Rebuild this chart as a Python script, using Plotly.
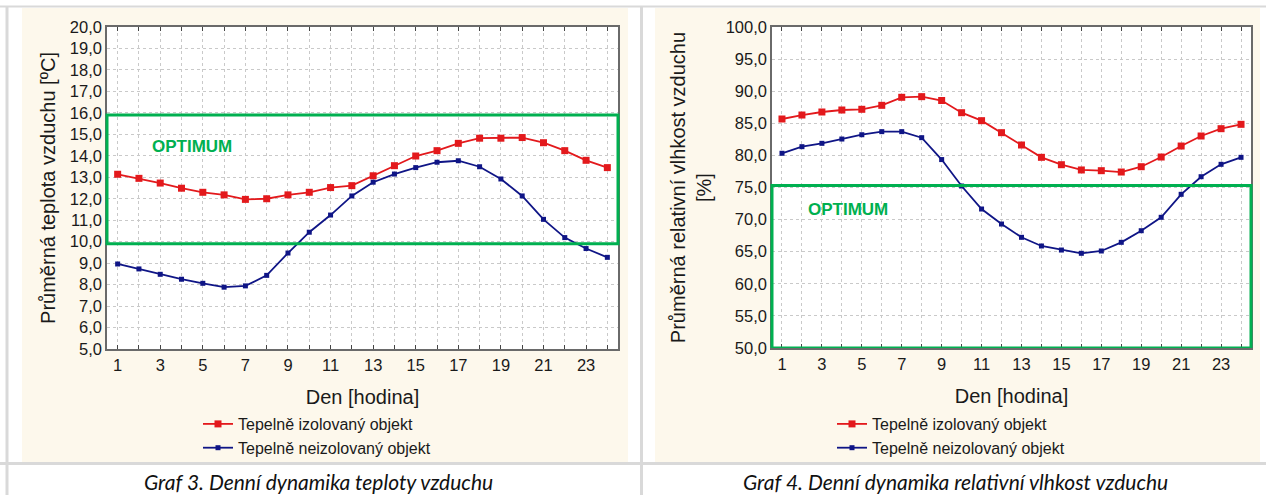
import plotly.graph_objects as go

hours = list(range(1, 25))

temp_izol = [13.14, 12.95, 12.73, 12.49, 12.30, 12.18, 11.97, 12.00, 12.18, 12.30, 12.52, 12.61,
             13.07, 13.54, 13.99, 14.24, 14.58, 14.82, 14.82, 14.85, 14.61, 14.24, 13.79, 13.45]
temp_neizol = [8.96, 8.73, 8.48, 8.25, 8.06, 7.88, 7.94, 8.43, 9.47, 10.44, 11.24, 12.13,
               12.77, 13.15, 13.45, 13.70, 13.77, 13.49, 12.92, 12.13, 11.04, 10.19, 9.68, 9.27]
vlh_izol = [85.67, 86.29, 86.76, 87.07, 87.18, 87.80, 89.05, 89.15, 88.55, 86.65, 85.41, 83.54,
            81.62, 79.70, 78.55, 77.73, 77.62, 77.41, 78.24, 79.75, 81.46, 83.02, 84.16, 84.84]
vlh_neizol = [80.33, 81.36, 81.88, 82.55, 83.22, 83.70, 83.70, 82.76, 79.35, 75.23, 71.65, 69.31,
              67.24, 65.89, 65.26, 64.75, 65.11, 66.46, 68.27, 70.36, 73.94, 76.68, 78.61, 79.70]

series_names = ["Tepelně izolovaný objekt", "Tepelně neizolovaný objekt"]
temp_optimum = [9.9, 15.9]
vlh_optimum = [50.0, 75.3]
x_ticks = list(range(1, 24, 2))

RED = "#e3191c"
BLUE = "#0f1586"
GREEN = "#00b050"
BEIGE = "#fdf8ec"
BORDER = "#d9d9d9"

fig = go.Figure()

def add_series(xa, ya, y1, y2, legend):
    fig.add_trace(go.Scatter(x=hours, y=y1, name=series_names[0], mode="lines+markers",
                             line=dict(color=RED, width=1.8),
                             marker=dict(symbol="square", size=7, color=RED),
                             xaxis=xa, yaxis=ya, legend=legend))
    fig.add_trace(go.Scatter(x=hours, y=y2, name=series_names[1], mode="lines+markers",
                             line=dict(color=BLUE, width=1.8),
                             marker=dict(symbol="square", size=5, color=BLUE),
                             xaxis=xa, yaxis=ya, legend=legend))

add_series("x", "y", temp_izol, temp_neizol, "legend")
add_series("x2", "y2", vlh_izol, vlh_neizol, "legend2")

W, H = 1266, 495
def px(x):
    return x / W
def py(y):
    return (H - y) / H

tickfont = dict(family="Arial", size=16.5, color="#1a1a1a")
titlefont = dict(family="Arial", size=20, color="#1a1a1a")
legfont = dict(family="Arial", size=16, color="#1a1a1a")

def xaxis(domain, anchor):
    return dict(domain=domain, anchor=anchor, range=[0.5, 24.5], automargin=False,
                tickmode="array", tickvals=x_ticks, ticks="inside", ticklen=4,
                tickcolor="#444", showline=True, linecolor="#6a6a6a", linewidth=1.5,
                mirror="ticks", showgrid=True, gridcolor="#c9c9c9", griddash="dot",
                minor=dict(dtick=1, tick0=0, showgrid=True, gridcolor="#c9c9c9", griddash="dot",
                           ticks="inside", ticklen=4, tickcolor="#444"),
                tickfont=tickfont, zeroline=False,
                title=dict(text="Den [hodina]", font=titlefont, standoff=17))

def yaxis(domain, anchor, rng, dtick, title, standoff):
    return dict(domain=domain, anchor=anchor, range=rng, dtick=dtick, tick0=rng[0],
                automargin=False,
                tickformat=".1f", ticks="", showline=True, linecolor="#6a6a6a", linewidth=1.5,
                mirror=True, showgrid=True, gridcolor="#c9c9c9", griddash="dot",
                tickfont=tickfont, zeroline=False,
                title=dict(text=title, font=titlefont, standoff=standoff))

fig.update_layout(
    width=W, height=H, margin=dict(l=0, r=0, t=0, b=0, pad=0, autoexpand=False),
    paper_bgcolor="white", plot_bgcolor="white",
    separators=", ",
    showlegend=True,
    xaxis=xaxis([px(107), px(618)], "y"),
    yaxis=yaxis([py(349), py(27)], "x", [5, 20], 1, "Průměrná teplota vzduchu [ºC]", 9),
    xaxis2=xaxis([px(772), px(1251)], "y2"),
    yaxis2=yaxis([py(348), py(27)], "x2", [50, 100], 5,
                 "Průměrná relativní vlhkost vzduchu<br>[%]", 9),
    legend=dict(x=px(198), y=py(407), xanchor="left", yanchor="top",
                bgcolor="rgba(0,0,0,0)", font=legfont, tracegroupgap=0, itemwidth=30),
    legend2=dict(x=px(832), y=py(407), xanchor="left", yanchor="top",
                 bgcolor="rgba(0,0,0,0)", font=legfont, tracegroupgap=0, itemwidth=30),
)

shapes = []
# beige panels
for x0, x1 in [(22, 628), (655, 1260)]:
    shapes.append(dict(type="rect", xref="paper", yref="paper", x0=px(x0), x1=px(x1),
                       y0=py(462), y1=py(8), fillcolor=BEIGE, line=dict(width=0), layer="below"))
# white plot areas
for xr, yr in [("x domain", "y domain"), ("x2 domain", "y2 domain")]:
    shapes.append(dict(type="rect", xref=xr, yref=yr, x0=0, x1=1, y0=0, y1=1,
                       fillcolor="white", line=dict(width=0), layer="below"))
# table borders
shapes.append(dict(type="line", xref="paper", yref="paper", x0=0, x1=1, y0=py(6.5), y1=py(6.5),
                   line=dict(color=BORDER, width=2)))
shapes.append(dict(type="line", xref="paper", yref="paper", x0=0, x1=1, y0=py(463.5), y1=py(463.5),
                   line=dict(color=BORDER, width=3)))
shapes.append(dict(type="line", xref="paper", yref="paper", x0=px(7), x1=px(7), y0=0, y1=py(6),
                   line=dict(color=BORDER, width=3)))
shapes.append(dict(type="line", xref="paper", yref="paper", x0=px(641.5), x1=px(641.5), y0=0, y1=py(6),
                   line=dict(color=BORDER, width=3)))
# optimum rectangles
shapes.append(dict(type="rect", xref="x domain", yref="y", x0=0, x1=1,
                   y0=temp_optimum[0], y1=temp_optimum[1], line=dict(color=GREEN, width=3)))
shapes.append(dict(type="rect", xref="x2 domain", yref="y2", x0=0, x1=1,
                   y0=vlh_optimum[0], y1=vlh_optimum[1], line=dict(color=GREEN, width=3)))
fig.update_layout(shapes=shapes)

optfont = dict(family="Arial", size=17, color=GREEN)
capfont = dict(family="Lato", size=21, color="#111")
annotations = [
    dict(text="<b>OPTIMUM</b>", x=4.5, y=14.45, xref="x", yref="y", showarrow=False, font=optfont,
         xanchor="center", yanchor="middle"),
    dict(text="<b>OPTIMUM</b>", x=4.3, y=71.5, xref="x2", yref="y2", showarrow=False, font=optfont,
         xanchor="center", yanchor="middle"),
    dict(text="<i>Graf 3. Denní dynamika teploty vzduchu</i>", x=px(318), y=py(481),
         xref="paper", yref="paper", showarrow=False, xanchor="center", yanchor="middle",
         font=capfont),
    dict(text="<i>Graf 4. Denní dynamika relativní vlhkost vzduchu</i>", x=px(955), y=py(481),
         xref="paper", yref="paper", showarrow=False, xanchor="center", yanchor="middle",
         font=capfont),
]
fig.update_layout(annotations=annotations)

fig.write_html("out.html", config={"displayModeBar": False},
               post_script="document.body.style.margin='0';document.body.style.overflow='hidden';")
